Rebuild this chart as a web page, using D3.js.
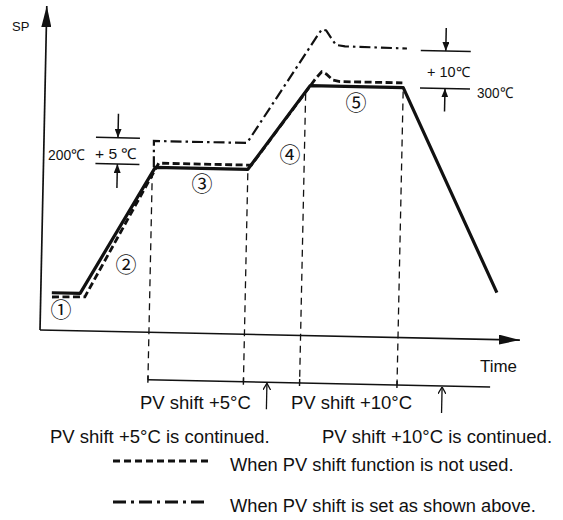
<!DOCTYPE html>
<html><head><meta charset="utf-8">
<script src="https://cdn.jsdelivr.net/npm/d3@7"></script>
<style>body{margin:0;background:#fff} svg{display:block}</style>
</head><body>
<svg id="chart" width="563" height="520"></svg>
<script>
// Program profile: time (arbitrary units) and set point (°C)
const spTime = [2.3, 8.2, 23.3, 42.6, 55.2, 74.6, 95];
const spTemp = [50, 50, 200, 200, 300, 300, 61];

// PV when the PV shift function is not used
const noShiftTime = [2.35, 9.2, 24, 43.3, 56.4, 57.55, 58.5, 59.95, 61.4, 74.4];
const noShiftTemp = [45, 46, 205, 205, 309, 316.5, 314, 307, 305.5, 305.5];

// PV with the shift set (+5 °C on the 200 °C step, +10 °C on the 300 °C step)
const shiftTime = [23.0, 22.9, 42.3, 56.6, 57.4, 58.3, 59.35, 60.4, 62.3, 75.2];
const shiftTemp = [200, 231, 231, 359.8, 366.4, 365.3, 356.6, 348.5, 347, 346];

// Segment boundaries dropped to the time line
const dropTime = [22.7, 42.6, 54.3, 74.6];
const dropTemp = [200, 200, 295, 300];
const bracketEnd = 94;
const continuedTime = [47.5, 84];

// Shift-width markers: [base level, shifted level]
const markLeft = [203, 234];
const markRight = [300, 344];
const markLeftTime = 15.4;
const markRightTime = 83.3;

const stepNames = ["①", "②", "③", "④", "⑤"];
const stepX = [61, 126, 202, 290, 356];
const stepY = [308, 263, 182, 153, 101];

const svg = d3.select("#chart");
const x = d3.scaleLinear().domain([0, 100]).range([40, 520]);
const y = d3.scaleLinear().domain([200, 300]).range([165, 80]);
const axisY = 330, axisTop = 6;

const defs = svg.append("defs");
function headMarker(id, w, h, open) {
  const m = defs.append("marker").attr("id", id)
    .attr("viewBox", `0 ${-h} ${w} ${2 * h}`)
    .attr("refX", w).attr("refY", 0)
    .attr("markerUnits", "userSpaceOnUse")
    .attr("markerWidth", w).attr("markerHeight", 2 * h)
    .attr("orient", "auto");
  if (open) {
    m.append("path").attr("d", `M0,${-h}L${w},0L0,${h}`)
      .attr("fill", "none").attr("stroke", "#111").attr("stroke-width", 1.3);
  } else {
    m.append("path").attr("d", `M0,${-h}L${w},0L0,${h}Z`).attr("fill", "#111");
  }
}
headMarker("axisHead", 21, 5, false);
headMarker("smallHead", 9, 3.5, false);
headMarker("openHead", 7, 4, true);

const g = svg.append("g").attr("transform", `rotate(1.2, ${x(0)}, ${axisY})`);

// axes
g.append("line").attr("x1", x(0)).attr("y1", axisY).attr("x2", x(0)).attr("y2", axisTop)
  .attr("stroke", "#111").attr("stroke-width", 1.7).attr("marker-end", "url(#axisHead)");
g.append("line").attr("x1", x(0)).attr("y1", axisY).attr("x2", x(100)).attr("y2", axisY)
  .attr("stroke", "#111").attr("stroke-width", 1.7).attr("marker-end", "url(#axisHead)");

const line = d3.line().x(d => x(d[0])).y(d => y(d[1]));
const zip = (a, b) => a.map((v, i) => [v, b[i]]);

// drop lines to the time line
const bracketY = axisY + 47.5;
g.selectAll(".drop").data(zip(dropTime, dropTemp)).join("line")
  .attr("x1", d => x(d[0])).attr("x2", d => x(d[0]))
  .attr("y1", d => y(d[1]) + 4).attr("y2", bracketY)
  .attr("stroke", "#111").attr("stroke-width", 1.3).attr("stroke-dasharray", "7,5");

// time line with segment ticks
g.append("line").attr("x1", x(dropTime[0])).attr("x2", x(bracketEnd))
  .attr("y1", bracketY).attr("y2", bracketY).attr("stroke", "#111").attr("stroke-width", 1.4);
g.selectAll(".tick").data(dropTime).join("line")
  .attr("x1", d => x(d)).attr("x2", d => x(d))
  .attr("y1", bracketY - 4).attr("y2", bracketY + 3)
  .attr("stroke", "#111").attr("stroke-width", 1.4);
g.selectAll(".cont").data(continuedTime).join("line")
  .attr("x1", d => x(d)).attr("x2", d => x(d))
  .attr("y1", bracketY + 27).attr("y2", bracketY + 1)
  .attr("stroke", "#111").attr("stroke-width", 1.3).attr("marker-end", "url(#openHead)");

// profile lines
g.append("path").datum(zip(noShiftTime, noShiftTemp)).attr("d", line)
  .attr("fill", "none").attr("stroke", "#111").attr("stroke-width", 2.8)
  .attr("stroke-dasharray", "7,3.5");
g.append("path").datum(zip(shiftTime, shiftTemp)).attr("d", line)
  .attr("fill", "none").attr("stroke", "#111").attr("stroke-width", 2.2)
  .attr("stroke-dasharray", "11,4,2.5,4");
g.append("path").datum(zip(spTime, spTemp)).attr("d", line)
  .attr("fill", "none").attr("stroke", "#111").attr("stroke-width", 3.2)
  .attr("stroke-linejoin", "round");

// shift-width markers
function shiftMarker(t, levels, half, arrowLen) {
  const cx = x(t);
  levels.forEach(v => {
    g.append("line").attr("x1", cx - half).attr("x2", cx + half)
      .attr("y1", y(v)).attr("y2", y(v)).attr("stroke", "#111").attr("stroke-width", 1.5);
  });
  g.append("line").attr("x1", cx).attr("x2", cx)
    .attr("y1", y(levels[1]) - arrowLen).attr("y2", y(levels[1]))
    .attr("stroke", "#111").attr("stroke-width", 1.5).attr("marker-end", "url(#smallHead)");
  g.append("line").attr("x1", cx).attr("x2", cx)
    .attr("y1", y(levels[0]) + arrowLen).attr("y2", y(levels[0]))
    .attr("stroke", "#111").attr("stroke-width", 1.5).attr("marker-end", "url(#smallHead)");
}
shiftMarker(markLeftTime, markLeft, 22, 24);
shiftMarker(markRightTime, markRight, 25, 23);

// text
const font = "'Liberation Sans', Arial, sans-serif";
function label(txt, px, py, size, len) {
  const t = svg.append("text").attr("x", px).attr("y", py).text(txt)
    .attr("font-family", font).attr("font-size", size).attr("fill", "#111");
  if (len) t.attr("textLength", len).attr("lengthAdjust", "spacingAndGlyphs");
  return t;
}
label("SP", 12, 31, 13);
label("200℃", 48, 160, 15, 37);
label("+ 5 ℃", 95, 159, 15, 42);
label("+ 10℃", 427, 77, 14, 43);
label("300℃", 477, 98, 15, 36);
label("Time", 480, 372, 16.5, 37);

svg.selectAll(".step").data(stepNames).join("text")
  .attr("x", (d, i) => stepX[i]).attr("y", (d, i) => stepY[i])
  .attr("text-anchor", "middle").attr("dominant-baseline", "central")
  .attr("font-family", "'Noto Sans CJK JP', 'DejaVu Sans', sans-serif")
  .attr("font-size", 21).attr("fill", "#111").text(d => d);

label("PV shift +5°C", 140, 409, 18.5);
label("PV shift +10°C", 291, 409, 18.5);
label("PV shift +5°C is continued.", 50, 443, 18.5);
label("PV shift +10°C is continued.", 322, 443, 18.5);
label("When PV shift function is not used.", 230, 471, 18.3);
label("When PV shift is set as shown above.", 230, 512, 18.3);

// legend samples
svg.append("line").attr("x1", 113).attr("x2", 212).attr("y1", 461).attr("y2", 461)
  .attr("stroke", "#111").attr("stroke-width", 3).attr("stroke-dasharray", "7,4");
svg.append("line").attr("x1", 113).attr("x2", 207).attr("y1", 502).attr("y2", 502)
  .attr("stroke", "#111").attr("stroke-width", 3).attr("stroke-dasharray", "13,5,3,5");
</script>
</body></html>
